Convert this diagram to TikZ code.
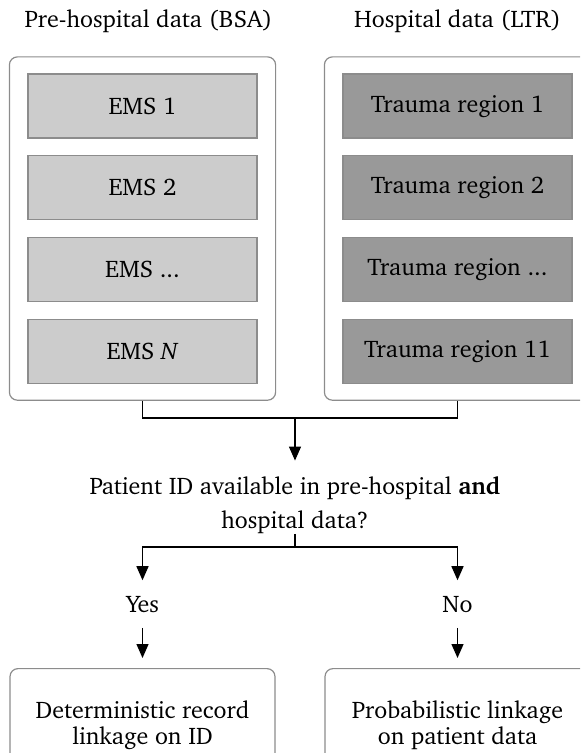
\documentclass[tikz,border=0pt]{standalone}
\usepackage[T1]{fontenc}
\usepackage{charter}
\usetikzlibrary{arrows.meta,positioning,fit}
\definecolor{boxgray}{HTML}{8C8C8C}
\definecolor{emsfill}{HTML}{CCCCCC}
\definecolor{traumafill}{HTML}{999999}
\tikzset{
  txt/.style={font=\fontsize{12}{14.4}\selectfont},
  title/.style={txt, inner sep=0pt},
  outer/.style={draw=boxgray, line width=0.6pt, rounded corners=4pt, inner xsep=9pt, inner ysep=8.25pt},
  src/.style={txt, draw=boxgray, line width=0.6pt, minimum width=114.5pt, minimum height=32pt, inner sep=0pt},
  ems/.style={src, fill=emsfill},
  region/.style={src, fill=traumafill},
  question/.style={font=\fontsize{12}{17}\selectfont, align=center, inner sep=0pt},
  answer/.style={txt, inner xsep=0pt, inner ysep=7.5pt},
  result/.style={font=\fontsize{12}{13}\selectfont, align=center, draw=boxgray, line width=0.6pt, rounded corners=4pt, minimum width=132.5pt, minimum height=57pt, anchor=north},
  link/.style={line width=0.65pt},
  arr/.style={link, -{Triangle[length=7pt,width=6pt]}}
}
\begin{document}
\begin{tikzpicture}[x=0.5pt, y=-0.5pt, node distance=8.25pt]
\useasboundingbox (0,0) rectangle (580,753);
\clip (0,0) rectangle (580,753);
\node[ems] (ems1) at (142.5,106) {EMS 1};
\node[ems, below=of ems1] (ems2) {EMS 2};
\node[ems, below=of ems2] (ems3) {EMS ...};
\node[ems, below=of ems3] (emsN) {EMS \textit{N}};
\node[region] (reg1) at (457.5,106) {Trauma region 1};
\node[region, below=of reg1] (reg2) {Trauma region 2};
\node[region, below=of reg2] (reg3) {Trauma region ...};
\node[region, below=of reg3] (reg11) {Trauma region 11};
\node[outer, fit=(ems1)(emsN)] (prebox) {};
\node[outer, fit=(reg1)(reg11)] (hospbox) {};
\node[title, above=11.75pt of prebox, xshift=3pt] (pretitle) {Pre-hospital data (BSA)};
\node[title, above=11.75pt of hospbox] (hosptitle) {Hospital data (LTR)};
\coordinate (join) at (295,418);
\node[question] (question) at (295,505) {Patient ID available in pre-hospital \textbf{and}\\hospital data?};
\coordinate (split) at (295,547);
\node[answer] (yes) at (142.5,604) {Yes};
\node[answer] (no) at (457.5,604) {No};
\node[result] (detres) at (142.5,668) {Deterministic record\\linkage on ID};
\node[result] (probres) at (457.5,668) {Probabilistic linkage\\on patient data};
\draw[link] (prebox.south) -- (prebox.south |- join) -- (hospbox.south |- join) -- (hospbox.south);
\draw[arr, shorten >=7.75pt] (join) -- (question);
\draw[link] (question) -- (split);
\draw[arr] (split) -| (yes);
\draw[arr] (split) -| (no);
\draw[arr, shorten >=5pt] (yes) -- (detres);
\draw[arr, shorten >=5pt] (no) -- (probres);
\end{tikzpicture}
\end{document}
